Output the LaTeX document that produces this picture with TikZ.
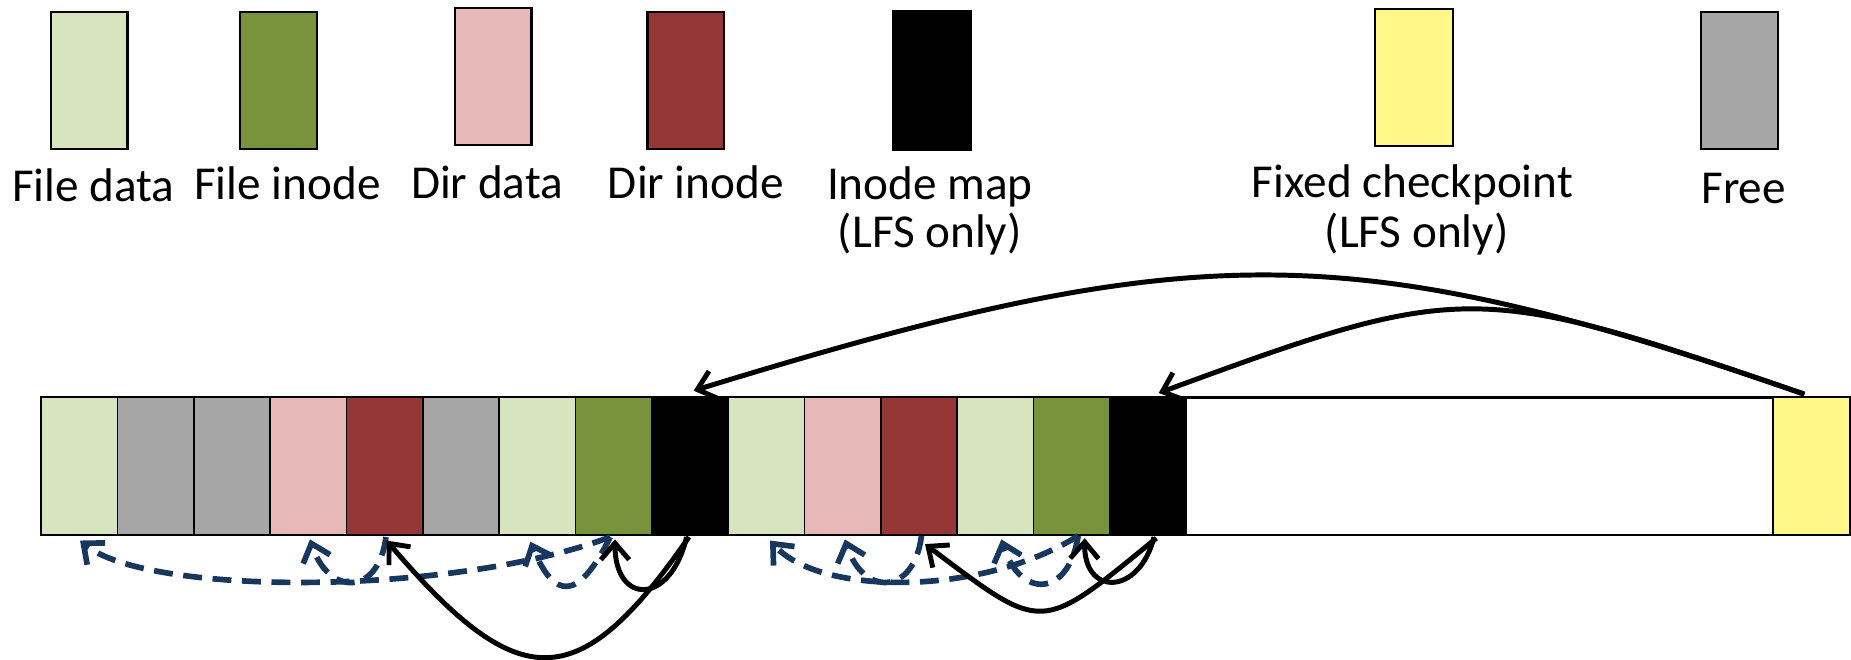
\documentclass[tikz,border=0pt]{standalone}
\usepackage{fontspec}
\setmainfont{Carlito}
\usetikzlibrary{arrows.meta,calc}
\definecolor{fdata}{HTML}{D7E4BD}
\definecolor{finode}{HTML}{77933C}
\definecolor{ddata}{HTML}{E6B9B8}
\definecolor{dinode}{HTML}{953735}
\definecolor{freec}{HTML}{A6A6A6}
\definecolor{ckpt}{HTML}{FFF787}
\definecolor{navy}{HTML}{17375E}
\begin{document}
\begin{tikzpicture}[x=0.5pt,y=-0.5pt,
  legbox/.style={draw=black, line width=0.9pt, minimum width=32.5pt, minimum height=58pt, inner sep=0pt},
  cell/.style={draw=black, line width=0.7pt, minimum width=32.33pt, minimum height=58.3pt, inner sep=0pt},
  lbl/.style={font=\fontsize{20}{24}\selectfont, anchor=base, inner sep=0pt},
  ptr/.style={line width=2.1pt, -{Straight Barb[length=7pt,width=12pt]}},
  dptr/.style={draw=navy, line width=2.4pt, dash pattern=on 8pt off 4.5pt, -{Straight Barb[length=7pt,width=12pt]}}]
\useasboundingbox (0,0) rectangle (1568,559);

% legend
\node[legbox, fill=fdata] (lfd) at (75.5,68) {};
\node[legbox, fill=finode] (lfi) at (236,68) {};
\node[legbox, fill=ddata] (ldd) at (417.7,64.5) {};
\node[legbox, fill=dinode] (ldi) at (581,68) {};
\node[legbox, fill=black, minimum width=33pt, minimum height=58.8pt] (lim) at (789.5,68.2) {};
\node[legbox, fill=ckpt, minimum width=33pt] (lck) at (1198,65.8) {};
\node[legbox, fill=freec] (lfr) at (1473.5,68) {};

\node[lbl] (tfd) at (79,171) {File data};
\node[lbl] (tfi) at (243.5,169) {File inode};
\node[lbl] (tdd) at (412.5,168) {Dir data};
\node[lbl] (tdi) at (589.5,168.5) {Dir inode};
\node[lbl] (tim) at (787.7,169.4) {Inode map};
\node[lbl] (tim2) at (787.7,210) {(LFS only)};
\node[lbl] (tck) at (1196.5,167) {Fixed checkpoint};
\node[lbl] (tck2) at (1200,210) {(LFS only)};
\node[lbl] (tfr) at (1477,172) {Free};

% log strip
\draw[line width=1pt, fill=white] (35,336.6) rectangle (1567,453.2);
\foreach \c [count=\i] in {fdata,freec,freec,ddata,dinode,freec,fdata,finode,black,fdata,ddata,dinode,fdata,finode,black}
  \node[cell, fill=\c] (c\i) at ({35+64.66*(\i-0.5)},394.9) {};
\node[cell, fill=ckpt, minimum width=32.5pt] (ck) at (1534.5,394.9) {};

% checkpoint pointers
\draw[ptr] ($(ck.north)+(-6,-2)$) .. controls (1142,200) and (1014,200) .. ($(c9.north)+(3,-5)$);
\draw[ptr] ($(ck.north)+(-6,-2)$) .. controls (1250,238) and (1240,238) .. ($(c15.north)+(9,-3)$);

% left segment: dashed
\draw[dptr] ($(c8.south)+(-3,1)$) .. controls (383,505) and (125,505) .. ($(c1.south)+(0.5,4)$);
\draw[dptr] ($(c5.south)+(1,1)$) .. controls (320.6,505) and (278.6,505) .. ($(c4.south)+(1.3,3)$);
\draw[dptr] ($(c8.south)+(-3,1)$) .. controls (490,509) and (470,509) .. ($(c7.south)+(-6,5)$);
% left segment: solid
\draw[ptr] ($(c9.south)+(-1,1)$) .. controls (490,590) and (440,590) .. ($(c5.south)+(1.5,4)$);
\draw[ptr] ($(c9.south)+(-3,1)$) .. controls (568,513) and (521,513) .. ($(c8.south)+(1,3)$);

% right segment: dashed
\draw[dptr] ($(c14.south)+(5.4,0)$) .. controls (832,505) and (695,505) .. ($(c10.south)+(3,4)$);
\draw[dptr] ($(c12.south)+(2,0)$) .. controls (774,505) and (731,505) .. ($(c11.south)+(1.8,3)$);
\draw[dptr] ($(c14.south)+(5.4,0)$) .. controls (905,507) and (864,507) .. ($(c13.south)+(5,3)$);
% right segment: solid
\draw[ptr] ($(c15.south)+(7,2)$) .. controls (880,537) and (885,537) .. ($(c12.south)+(5,7)$);
\draw[ptr] ($(c15.south)+(5,1)$) .. controls (965,505) and (918,505) .. ($(c14.south)+(11,2)$);
\end{tikzpicture}
\end{document}
